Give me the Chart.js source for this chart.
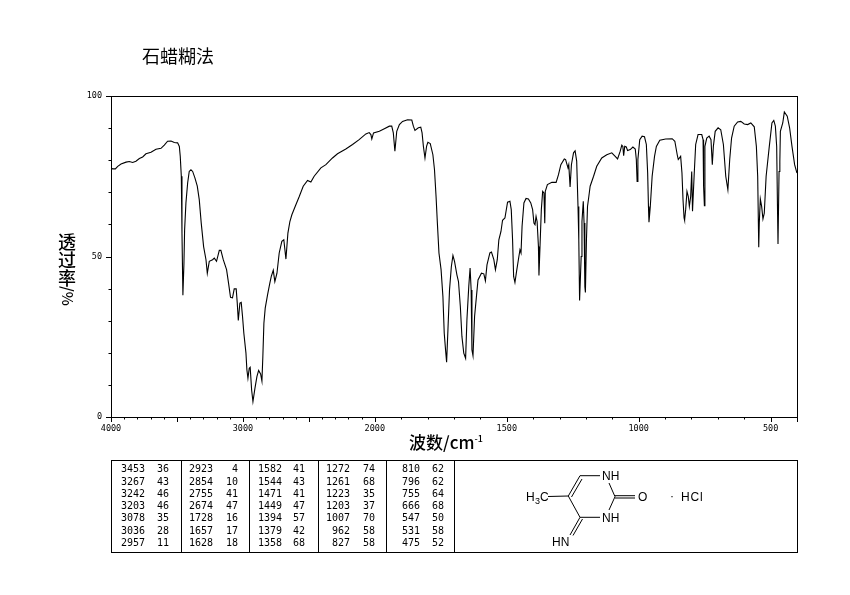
<!DOCTYPE html>
<html>
<head>
<meta charset="utf-8">
<title>石蜡糊法</title>
<script src="https://cdn.jsdelivr.net/npm/chart.js@4/dist/chart.umd.js"></script>
<style>
    html, body { margin: 0; padding: 0; background: #fff; }
    #page { position: relative; width: 850px; height: 595px; overflow: hidden; }
    canvas { position: absolute; left: 0; top: 0; }
    .label { position: absolute; color: #000; font-family: "Noto Sans CJK SC", sans-serif; line-height: 1; white-space: nowrap; }
    #chartTitle { left: 142px; top: 46px; font-size: 18px; }
    #yTitle { left: 58px; top: 232px; width: 18px; font-size: 18px; font-weight: 500; }
    #yTitle span { display: block; height: 18px; text-align: center; }
    #yTitle .unit { height: 18px; transform: rotate(90deg); font-size: 15px; }
    #xTitle { left: 409px; top: 433px; font-size: 17px; font-weight: 500; }
    #xTitle sup { font-size: 9px; line-height: 0; }
    #peakBox { position: absolute; left: 111px; top: 460px; width: 685px; height: 91px; border: 1px solid #000; }
    .divider { position: absolute; top: 0; bottom: 0; width: 1px; background: #000; }
    .peak { position: absolute; font: 10px/12px "DejaVu Sans Mono", monospace; color: #000; text-align: right; }
    svg { position: absolute; left: 0; top: 0; }
    svg text { font-family: "Liberation Sans", sans-serif; font-size: 12px; fill: #000; }
</style>
</head>
<body>
<div id="page">
    <canvas id="irChart" width="850" height="595"></canvas>
    <div class="label" id="chartTitle">石蜡糊法</div>
    <div class="label" id="yTitle"><span>透</span><span>过</span><span>率</span><span class="unit">/%</span></div>
    <div class="label" id="xTitle">波数/cm<sup>-1</sup></div>
    <div id="peakBox"></div>
    <svg width="850" height="595" fill="none" stroke="#000" stroke-width="1">
        <path d="M580 475.7H600M580 475.7L568.3 496M582 479L571.5 497M568.3 496L580 517.3M580 517.3H600M609 483L615 496.7L609 510M615 495.7H635M615 498H635M548 496.5L568.3 496M580 517.3L570 535M582.5 519L573 535.5"/>
        <g stroke="none">
            <text x="602" y="479.5">NH</text>
            <text x="602" y="521.5">NH</text>
            <text x="638" y="500.5">O</text>
            <text x="552" y="546">HN</text>
            <text x="526" y="501">H</text>
            <text x="535" y="504" style="font-size:9px">3</text>
            <text x="540" y="501">C</text>
            <text x="670" y="500">·</text>
            <text x="681" y="501" letter-spacing="0.8">HCl</text>
        </g>
    </svg>
</div>
<script>
// Phổ truyền qua: số sóng (cm-1) và độ truyền qua (%)
const wavenumbers = [
    4000, 3987, 3967, 3949, 3924, 3886, 3861, 3836, 3811, 3785, 3760, 3735, 3697, 3659, 3621, 3596, 3571, 3545, 3520, 3495,
    3482, 3475, 3467, 3462, 3455, 3447, 3442, 3432, 3419, 3407, 3394, 3381, 3364, 3346, 3331, 3316, 3298, 3280, 3270, 3255,
    3230, 3217, 3200, 3179, 3167, 3149, 3124, 3109, 3094, 3079, 3066, 3051, 3043, 3035, 3023, 3013, 3003, 2993, 2977, 2970,
    2962, 2952, 2945, 2934, 2924, 2909, 2894, 2881, 2866, 2856, 2849, 2841, 2831, 2813, 2796, 2785, 2770, 2758, 2742, 2725,
    2705, 2690, 2674, 2659, 2644, 2629, 2604, 2573, 2543, 2510, 2485, 2460, 2409, 2371, 2321, 2283, 2270, 2220, 2169, 2119,
    2068, 2043, 2030, 2023, 2010, 1983, 1964, 1945, 1936, 1930, 1924, 1917, 1907, 1895, 1876, 1860, 1854, 1848, 1835, 1826,
    1821, 1816, 1810, 1804, 1799, 1790, 1780, 1774, 1768, 1763, 1757, 1749, 1742, 1737, 1732, 1728, 1723, 1717, 1710, 1704,
    1698, 1689, 1683, 1676, 1670, 1663, 1656, 1651, 1644, 1639, 1635, 1632, 1628, 1622, 1615, 1609, 1596, 1587, 1581, 1575,
    1564, 1558, 1549, 1543, 1536, 1530, 1522, 1516, 1507, 1497, 1488, 1483, 1478, 1474, 1469, 1463, 1456, 1450, 1446, 1442,
    1435, 1427, 1418, 1409, 1402, 1397, 1393, 1389, 1385, 1380, 1378, 1374, 1369, 1364, 1359, 1356, 1354, 1346, 1329, 1313,
    1304, 1295, 1282, 1277, 1268, 1265, 1260, 1255, 1247, 1241, 1235, 1230, 1227, 1224, 1218, 1215, 1210, 1207, 1204, 1202,
    1198, 1194, 1189, 1184, 1171, 1159, 1140, 1121, 1102, 1089, 1080, 1070, 1064, 1060, 1057, 1053, 1047, 1042, 1032, 1022,
    1013, 1009, 1006, 1003, 996, 987, 978, 971, 966, 963, 961, 956, 949, 940, 933, 920, 898, 873, 863, 854,
    850, 841, 836, 832, 828, 826, 822, 817, 812, 808, 803, 799, 796, 790, 784, 775, 761, 756, 754, 751,
    749, 742, 733, 726, 721, 717, 710, 699, 689, 679, 670, 662, 655, 648, 638, 625, 613, 600, 587, 575,
    562, 554, 549, 545, 543, 539, 534, 529, 524, 517, 505, 495, 488, 482, 477, 474, 472, 468, 465, 463,
    454, 448, 437, 428, 419, 409, 401, 400
];
const transmittance = [
    77.5, 77.3, 77.3, 78.1, 78.8, 79.4, 79.6, 79.3, 79.7, 80.5, 81.0, 82.0, 82.5, 83.4, 83.7, 84.7, 85.9, 86.0, 85.5, 85.4,
    84.3, 81.2, 75.0, 57.3, 37.9, 47.9, 58.3, 66.7, 72.9, 76.5, 77.0, 76.5, 74.5, 71.9, 67.7, 60.4, 53.1, 49.0, 44.8, 48.5,
    49.0, 49.5, 48.5, 51.9, 51.9, 49.0, 45.9, 41.7, 37.3, 37.1, 39.9, 39.9, 35.5, 30.1, 35.5, 35.7, 31.3, 26.1, 19.9, 14.7,
    12.1, 15.2, 15.5, 8.4, 4.8, 8.9, 12.6, 14.5, 13.4, 11.2, 18.8, 29.2, 33.9, 38.1, 41.7, 43.8, 45.7, 42.2, 44.8, 51.1,
    54.7, 55.2, 49.2, 57.3, 60.9, 63.0, 65.6, 68.7, 71.9, 73.7, 73.2, 75.0, 77.6, 78.6, 80.7, 82.0, 82.3, 83.5, 84.9, 86.4,
    88.2, 88.6, 88.0, 86.6, 88.5, 89.0, 89.8, 90.6, 90.6, 88.5, 82.8, 89.0, 91.1, 92.1, 92.6, 92.5, 90.6, 89.3, 90.1, 90.3,
    88.5, 84.3, 80.7, 84.3, 85.6, 85.2, 81.7, 77.1, 68.7, 60.4, 51.1, 45.9, 37.5, 26.1, 20.9, 17.1, 27.1, 39.6, 46.9, 50.3,
    48.5, 44.3, 42.2, 34.4, 25.1, 19.9, 18.3, 30.3, 40.7, 46.4, 39.6, 20.9, 19.1, 31.3, 37.5, 42.7, 44.8, 44.6, 42.4, 47.4,
    51.1, 51.4, 49.0, 45.9, 49.0, 55.2, 57.8, 61.3, 62.0, 66.9, 67.2, 64.6, 55.2, 43.8, 41.9, 45.3, 49.0, 52.1, 51.1, 59.4,
    66.7, 68.1, 67.9, 66.7, 64.6, 60.4, 59.9, 62.5, 60.9, 53.1, 44.1, 53.1, 64.6, 70.3, 69.8, 60.4, 70.3, 72.4, 73.1, 73.1,
    75.5, 78.6, 80.4, 80.2, 77.6, 78.6, 71.7, 78.6, 82.3, 82.9, 79.7, 65.6, 55.2, 36.3, 50.0, 60.9, 67.2, 60.4, 40.6, 38.8,
    55.2, 65.6, 68.7, 71.9, 75.0, 78.1, 80.7, 81.7, 82.3, 81.2, 80.4, 82.8, 84.7, 84.3, 81.4, 84.3, 84.1, 83.0, 83.3, 84.1,
    83.5, 80.2, 73.4, 80.2, 86.4, 87.5, 87.3, 84.9, 76.0, 65.6, 60.7, 65.6, 75.0, 81.2, 84.3, 86.2, 86.6, 86.7, 85.9, 81.7,
    80.2, 81.2, 76.0, 67.7, 62.0, 61.3, 64.6, 70.3, 68.7, 65.6, 68.7, 76.5, 64.1, 75.0, 84.9, 88.0, 88.0, 86.4, 71.9, 65.8,
    84.3, 86.9, 87.5, 86.4, 78.6, 84.3, 89.0, 90.1, 89.5, 84.9, 75.0, 70.8, 80.2, 86.9, 90.6, 91.9, 92.1, 91.3, 91.1, 91.6,
    90.4, 84.3, 75.0, 52.9, 60.4, 67.9, 65.6, 61.7, 63.5, 75.0, 84.3, 91.6, 92.4, 90.6, 84.3, 65.6, 53.9, 76.5, 79.7, 89.0,
    91.6, 95.0, 93.7, 90.1, 84.3, 78.6, 76.2, 76.0
];

// Nhãn trục
const xTickLabels = [4000, 3000, 2000, 1500, 1000, 500];
const yTickLabels = [0, 50, 100];

// Bảng đỉnh hấp thụ, mỗi mảng là một cột
const peakWavenumbers = [
    [3453, 3267, 3242, 3203, 3078, 3036, 2957],
    [2923, 2854, 2755, 2674, 1728, 1657, 1628],
    [1582, 1544, 1471, 1449, 1394, 1379, 1358],
    [1272, 1261, 1223, 1203, 1007, 962, 827],
    [810, 796, 755, 666, 547, 531, 475]
];
const peakValues = [
    [36, 43, 46, 46, 35, 28, 11],
    [4, 10, 41, 47, 16, 17, 18],
    [41, 43, 41, 47, 57, 42, 68],
    [74, 68, 35, 37, 70, 58, 58],
    [62, 62, 64, 68, 50, 58, 52]
];

// Trục số sóng hai tỉ lệ: 4000-2000 nén lại một nửa so với 2000-400
class WavenumberScale extends Chart.LinearScale {
    static id = 'wavenumber';
    static defaults = Chart.LinearScale.defaults;

    getPixelForValue(value) {
        const units = value >= 2000 ? 4000 - value : 2000 + (2000 - value) * 2;
        return this.left + this.width * units / 5200;
    }

    getValueForPixel(pixel) {
        const units = (pixel - this.left) / this.width * 5200;
        return units <= 2000 ? 4000 - units : 2000 - (units - 2000) / 2;
    }
}
Chart.register(WavenumberScale);

// Khung và vạch chia
const frameAndTicks = {
    id: 'frameAndTicks',
    afterDraw(chart) {
        const { ctx, chartArea: area, scales } = chart;
        ctx.save();
        ctx.strokeStyle = '#000';
        ctx.lineWidth = 1;
        ctx.strokeRect(area.left + 0.5, area.top + 0.5, area.width, area.height);
        ctx.beginPath();
        scales.x.ticks.forEach(tick => {
            const x = Math.round(scales.x.getPixelForValue(tick.value)) + 0.5;
            const tall = tick.value % 500 === 0 || tick.value === 400;
            ctx.moveTo(x, area.bottom);
            ctx.lineTo(x, area.bottom + (tall ? 5 : 2.5));
        });
        scales.y.ticks.forEach(tick => {
            const y = Math.round(scales.y.getPixelForValue(tick.value)) + 0.5;
            ctx.moveTo(area.left, y);
            ctx.lineTo(area.left - (tick.value % 50 === 0 ? 5 : 2.5), y);
        });
        ctx.stroke();
        ctx.restore();
    }
};

document.addEventListener('DOMContentLoaded', function() {
    const ctx = document.getElementById('irChart').getContext('2d');
    new Chart(ctx, {
        type: 'line',
        data: {
            datasets: [{
                data: wavenumbers.map((wn, i) => ({ x: wn, y: transmittance[i] })),
                borderColor: '#000',
                borderWidth: 1.1,
                pointRadius: 0,
                tension: 0,
                fill: false
            }]
        },
        options: {
            responsive: false,
            animation: false,
            devicePixelRatio: 1,
            layout: { padding: { top: 96, right: 53, left: 0, bottom: 0 } },
            plugins: { legend: { display: false }, tooltip: { enabled: false }, title: { display: false } },
            scales: {
                x: {
                    type: 'wavenumber',
                    min: 400,
                    max: 4000,
                    afterFit(scale) { scale.height = 178; },
                    afterBuildTicks(scale) {
                        const ticks = [];
                        for (let v = 4000; v >= 400; v -= 100) ticks.push({ value: v });
                        scale.ticks = ticks;
                    },
                    grid: { display: false, drawTicks: false },
                    border: { display: false },
                    ticks: {
                        autoSkip: false,
                        maxRotation: 0,
                        minRotation: 0,
                        padding: 7,
                        color: '#000',
                        font: { family: 'DejaVu Sans Mono', size: 8.5 },
                        callback: value => xTickLabels.includes(value) ? String(value) : ''
                    }
                },
                y: {
                    min: 0,
                    max: 100,
                    afterFit(scale) { scale.width = 111; },
                    grid: { display: false, drawTicks: false },
                    border: { display: false },
                    ticks: {
                        stepSize: 10,
                        padding: 9,
                        color: '#000',
                        font: { family: 'DejaVu Sans Mono', size: 8.5 },
                        callback: value => yTickLabels.includes(value) ? String(value) : ''
                    }
                }
            }
        },
        plugins: [frameAndTicks]
    });

    // Vẽ bảng đỉnh
    const page = document.getElementById('page');
    const box = document.getElementById('peakBox');
    const dividerX = [69, 137, 206, 274, 342];
    dividerX.forEach(x => {
        const line = document.createElement('div');
        line.className = 'divider';
        line.style.left = x + 'px';
        box.appendChild(line);
    });
    const wnRight = [145, 213, 282, 350, 420];
    const valueRight = [169, 238, 305, 375, 444];
    const rowY = [463, 476, 488, 500, 512, 525, 537];
    function addPeak(text, right, top) {
        const el = document.createElement('div');
        el.className = 'peak';
        el.textContent = text;
        el.style.right = (850 - right) + 'px';
        el.style.top = top + 'px';
        page.appendChild(el);
    }
    peakWavenumbers.forEach((col, c) => {
        col.forEach((wn, r) => {
            addPeak(wn, wnRight[c], rowY[r]);
            addPeak(peakValues[c][r], valueRight[c], rowY[r]);
        });
    });
});
</script>
</body>
</html>
